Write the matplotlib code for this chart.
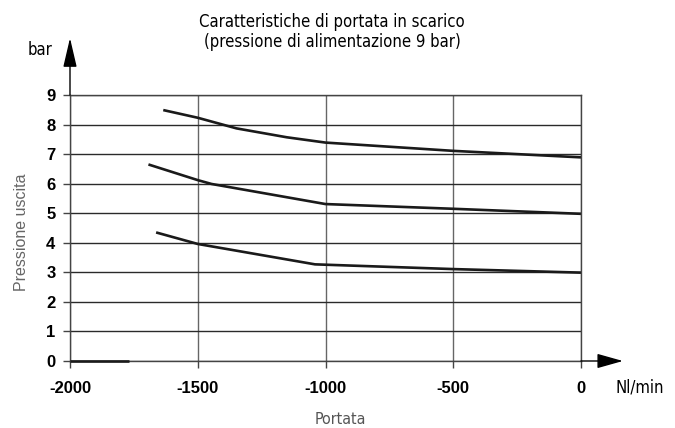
import matplotlib.pyplot as plt

# curves (Nl/min, bar)
x_top = [-1635, -1500, -1348, -1152, -1000, -500, 0]
y_top = [8.49, 8.23, 7.87, 7.57, 7.39, 7.11, 6.89]

x_mid = [-1693, -1500, -1446, -1000, -500, 0]
y_mid = [6.65, 6.12, 5.99, 5.31, 5.15, 4.98]

x_low = [-1663, -1500, -1041, -500, 0]
y_low = [4.35, 3.96, 3.27, 3.11, 2.99]

x_zero = [-2000, -1770]
y_zero = [0, 0]

xticks = [-2000, -1500, -1000, -500, 0]
yticks = [0, 1, 2, 3, 4, 5, 6, 7, 8, 9]

plt.rcParams['font.family'] = ['Liberation Sans', 'DejaVu Sans']
narrow = dict(family='DejaVu Sans', stretch='condensed')

fig = plt.figure(figsize=(6.75, 4.28), dpi=100)
ax = fig.add_axes([70/675, 1-361/428, 511/675, 266/428])

ax.plot(x_top, y_top, color="#1a1a1a", lw=1.9, solid_capstyle='butt')
ax.plot(x_mid, y_mid, color="#1a1a1a", lw=1.9, solid_capstyle='butt')
ax.plot(x_low, y_low, color="#1a1a1a", lw=1.9, solid_capstyle='butt')
ax.plot(x_zero, y_zero, color="#1a1a1a", lw=1.9, solid_capstyle='butt', clip_on=False, zorder=5)

ax.set_xlim(-2000, 0)
ax.set_ylim(0, 9)
ax.set_xticks(xticks)
ax.set_yticks(yticks)
ax.set_xticklabels([str(v) for v in xticks], fontsize=12, fontweight='bold')
ax.set_yticklabels([str(v) for v in yticks], fontsize=12, fontweight='bold')

ax.grid(True, axis='y', color="#2a2a2a", lw=1.0)
ax.grid(True, axis='x', color="#666666", lw=1.0)
for s in ax.spines.values():
    s.set_color("#444444")
    s.set_linewidth(1.0)
ax.tick_params(axis='both', length=5, width=1.0, color="#444444")
ax.tick_params(axis='y', pad=5.5)
ax.tick_params(axis='x', pad=9.5)

# arrows on the axes
ax.annotate('', xy=(0, 1.214), xytext=(0, 1.0), xycoords='axes fraction',
            arrowprops=dict(arrowstyle='-|>,head_length=1.8,head_width=0.42',
                            color='black', lw=1.0, shrinkA=0, shrinkB=0))
ax.annotate('', xy=(1.082, 0), xytext=(1.0, 0), xycoords='axes fraction',
            arrowprops=dict(arrowstyle='-|>,head_length=1.6,head_width=0.45',
                            color='black', lw=1.0, shrinkA=0, shrinkB=0))

fig.text(40/675, 1-50/428, "bar", fontsize=12, ha='center', va='center', **narrow)
fig.text(640/675, 1-388/428, "Nl/min", fontsize=12, ha='center', va='center', **narrow)
fig.text(332/675, 1-32/428,
         "Caratteristiche di portata in scarico\n(pressione di alimentazione 9 bar)",
         fontsize=12, ha='center', va='center', linespacing=1.15, **narrow)
fig.text(340/675, 1-420/428, "Portata", fontsize=11.5, ha='center', va='center',
         color="#555555", **narrow)
fig.text(21.5/675, 1-232/428, "Pressione uscita", fontsize=11.5, ha='center', va='center',
         color="#666666", rotation=90)

fig.savefig("out.png", dpi=100)
